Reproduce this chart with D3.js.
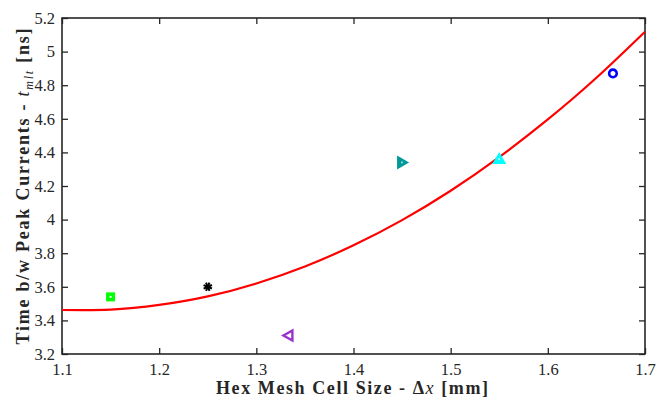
<!DOCTYPE html>
<html>
<head>
<meta charset="utf-8">
<script src="https://cdn.jsdelivr.net/npm/d3@7"></script>
<style>
  html, body { margin: 0; padding: 0; background: #fff; }
  svg { display: block; }
</style>
</head>
<body>
<svg id="chart" width="662" height="401"></svg>
<script>
// Measured cell sizes [mm] and time between peak currents [ns]
const cellSize = [1.15, 1.25, 1.333, 1.45, 1.55, 1.667];
const peakTime = [3.54, 3.60, 3.31, 4.34, 4.36, 4.87];
const markerKind = ["square", "asterisk", "triLeft", "triRight", "triUp", "circle"];
const markerColor = ["#00ff00", "#000000", "#9933cc", "#009999", "#00ffff", "#0000ff"];

// Fitted trend curve, sampled along the x range
const fitX = [1.10, 1.15, 1.20, 1.25, 1.30, 1.35, 1.40, 1.45, 1.50, 1.55, 1.60, 1.65, 1.70];
const fitY = [3.462, 3.464, 3.492, 3.543, 3.62, 3.721, 3.847, 3.997, 4.172, 4.372, 4.596, 4.844, 5.118];

const xTicks = [1.1, 1.2, 1.3, 1.4, 1.5, 1.6, 1.7];
const yTicks = [3.2, 3.4, 3.6, 3.8, 4.0, 4.2, 4.4, 4.6, 4.8, 5.0, 5.2];

const svg = d3.select("#chart");
const L = 62, R = 645, T = 18, B = 354;

const x = d3.scaleLinear().domain([1.1, 1.7]).range([L, R]);
const y = d3.scaleLinear().domain([3.2, 5.2]).range([B, T]);

const axisColor = "#262626";
const serif = "'Liberation Serif', 'Times New Roman', serif";

const fmt = d => (Math.abs(d - Math.round(d)) < 1e-9 ? d3.format("d")(d) : d3.format(".1f")(d));

function styleAxis(g) {
  g.select(".domain").remove();
  g.selectAll(".tick line").attr("stroke", axisColor).attr("stroke-width", 1.3);
  g.selectAll(".tick text").attr("fill", axisColor)
    .style("font-family", serif).style("font-size", "16.5px");
}

// Bottom & left axes with inward ticks
svg.append("g").attr("transform", `translate(0,${B})`)
  .call(d3.axisBottom(x).tickValues(xTicks).tickFormat(fmt).tickSizeInner(-6).tickSizeOuter(0).tickPadding(9))
  .call(styleAxis);
svg.append("g").attr("transform", `translate(${L},0)`)
  .call(d3.axisLeft(y).tickValues(yTicks).tickFormat(fmt).tickSizeInner(-6).tickSizeOuter(0).tickPadding(7))
  .call(styleAxis);
// Top & right mirrored ticks
svg.append("g").attr("transform", `translate(0,${T})`)
  .call(d3.axisTop(x).tickValues(xTicks).tickFormat("").tickSizeInner(-6).tickSizeOuter(0))
  .call(styleAxis);
svg.append("g").attr("transform", `translate(${R},0)`)
  .call(d3.axisRight(y).tickValues(yTicks).tickFormat("").tickSizeInner(-6).tickSizeOuter(0))
  .call(styleAxis);

// Box
svg.append("rect").attr("x", L).attr("y", T).attr("width", R - L).attr("height", B - T)
  .attr("fill", "none").attr("stroke", axisColor).attr("stroke-width", 1.6);

// Trend curve
const fitData = fitX.map((d, i) => [d, fitY[i]]);
svg.append("path").datum(fitData)
  .attr("d", d3.line().x(d => x(d[0])).y(d => y(d[1])).curve(d3.curveNatural))
  .attr("fill", "none").attr("stroke", "#ff0000").attr("stroke-width", 2.2);

// Markers
const pts = cellSize.map((d, i) => ({ x: d, y: peakTime[i], kind: markerKind[i], color: markerColor[i] }));
const mg = svg.append("g");
pts.forEach(p => {
  const g = mg.append("g").attr("transform", `translate(${x(p.x)},${y(p.y)})`);
  if (p.kind === "square") {
    g.append("rect").attr("x", -4.5).attr("y", -4.5).attr("width", 9).attr("height", 9).attr("fill", p.color);
    g.append("rect").attr("x", -1).attr("y", -1).attr("width", 2).attr("height", 2).attr("fill", "#fff");
  } else if (p.kind === "asterisk") {
    [0, 45, 90, 135].forEach(a => {
      g.append("line").attr("x1", -4.5).attr("x2", 4.5).attr("y1", 0).attr("y2", 0)
        .attr("transform", `rotate(${a + 22})`).attr("stroke", p.color).attr("stroke-width", 2);
    });
    g.append("circle").attr("r", 2.4).attr("fill", p.color);
  } else if (p.kind === "triLeft") {
    g.append("path").attr("d", "M-5,0 L4,-5 L4,5 Z")
      .attr("fill", "#fff").attr("stroke", p.color).attr("stroke-width", 2.4).attr("stroke-linejoin", "miter");
  } else if (p.kind === "triRight") {
    g.append("path").attr("d", "M7,0 L-5,-7 L-5,7 Z").attr("fill", p.color);
    g.append("rect").attr("x", -1).attr("y", -1).attr("width", 1.8).attr("height", 1.8).attr("fill", "#9fdada");
  } else if (p.kind === "triUp") {
    g.append("path").attr("d", "M0,-7 L7,5 L-7,5 Z").attr("fill", p.color);
    g.append("rect").attr("x", -1).attr("y", -1).attr("width", 1.8).attr("height", 1.8).attr("fill", "#bfffff");
  } else if (p.kind === "circle") {
    g.append("circle").attr("r", 3.8).attr("fill", "#fff").attr("stroke", p.color).attr("stroke-width", 2.6);
  }
});

// Axis titles
const xt = svg.append("text").attr("x", 352).attr("y", 394).attr("text-anchor", "middle")
  .attr("textLength", 272).attr("lengthAdjust", "spacing")
  .style("font-family", serif).style("font-size", "18px").style("font-weight", "bold").attr("fill", "#262626");
xt.append("tspan").text("Hex Mesh Cell Size - Δ");
xt.append("tspan").text("x").style("font-style", "italic").style("font-weight", "normal");
xt.append("tspan").text(" [mm]");

const yt = svg.append("text").attr("transform", `translate(29,186.5) rotate(-90)`)
  .attr("text-anchor", "middle")
  .attr("textLength", 316).attr("lengthAdjust", "spacing")
  .style("font-family", serif).style("font-size", "18px").style("font-weight", "bold").attr("fill", "#262626");
yt.append("tspan").text("Time b/w Peak Currents - ");
yt.append("tspan").text("t").style("font-style", "italic").style("font-weight", "normal");
yt.append("tspan").text("mlt").attr("dy", 4).style("font-style", "italic").style("font-weight", "normal").style("font-size", "12px");
yt.append("tspan").text(" [ns]").attr("dy", -4);
</script>
</body>
</html>
